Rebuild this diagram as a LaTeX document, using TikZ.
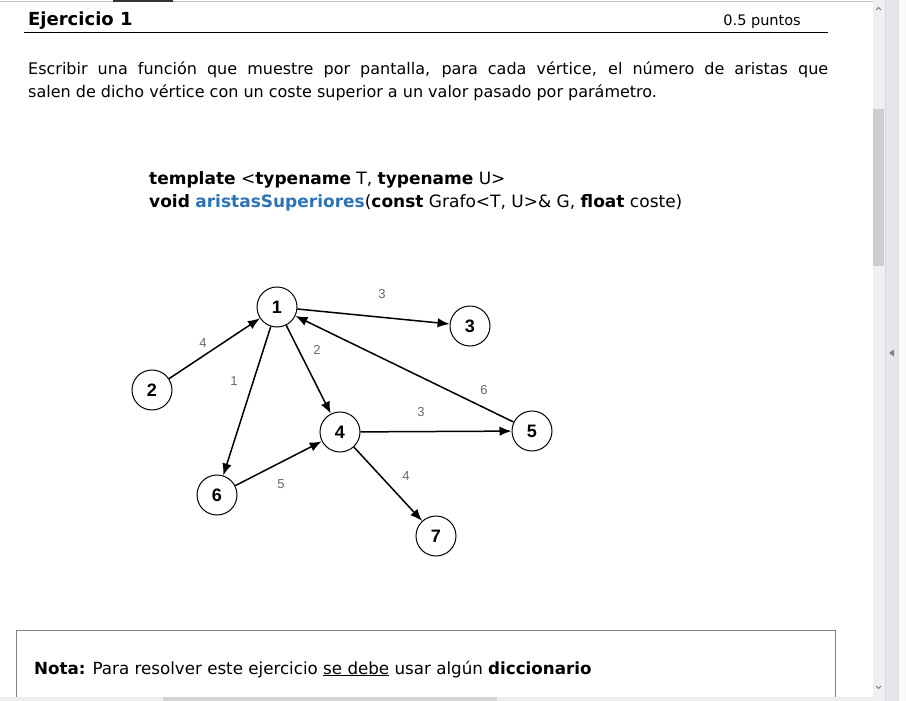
\documentclass[tikz,border=0pt]{standalone}
\usepackage{fontspec}
\setmainfont{DejaVu Sans}
\newfontfamily\numfont{Liberation Sans}
\usetikzlibrary{arrows.meta}
\definecolor{codeblue}{RGB}{46,116,181}
\definecolor{lblgrey}{RGB}{105,105,105}
\definecolor{trackgrey}{RGB}{240,240,242}
\definecolor{thumbgrey}{RGB}{205,205,205}
\definecolor{panelgrey}{RGB}{230,230,234}
\tikzset{
  vert/.style={circle, draw, line width=1pt, minimum size=40pt, inner sep=0pt, font=\numfont\bfseries\fontsize{18}{18}\selectfont},
  edge/.style={-{Latex[length=12pt,width=9.5pt]}, line width=1.5pt},
  wlabel/.style={text=lblgrey, font=\numfont\fontsize{13}{13}\selectfont, inner sep=0pt},
  body/.style={anchor=base west, inner sep=0pt, font=\fontsize{16}{19}\selectfont},
}
\begin{document}
\begin{tikzpicture}[x=1pt, y=-1pt]
\useasboundingbox (0,0) rectangle (906,701);
% window chrome
\draw[black!25, line width=0.8pt] (0,1) -- (873,1);
\fill[black!80] (113,0) rectangle (173,2);
\fill[trackgrey] (873,0) rectangle (885,701);
\fill[thumbgrey] (873,109) rectangle (884,266);
\fill[panelgrey] (885,0) rectangle (898,701);
\draw[black!15] (885,0) -- (885,701) (898,0) -- (898,701);
\fill[black!2] (898.5,0) rectangle (906,701);
\fill[black!50] (889,353) -- (894,349.5) -- (894,356.5) -- cycle;
\draw[black!55, line width=0.8pt] (876,10) -- (878.5,7.5) -- (881,10);
\draw[black!55, line width=0.8pt] (876,686) -- (878.5,688.5) -- (881,686);
\fill[black!7] (0,697) rectangle (873,701);
\fill[black!17] (163,697) rectangle (497,701);

% heading
\node[anchor=base west, inner sep=0pt, font=\bfseries\fontsize{18}{18}\selectfont] (title) at (28,26) {Ejercicio 1};
\node[anchor=base east, inner sep=0pt, font=\fontsize{14.5}{14.5}\selectfont] (pts) at (801,26) {0.5 puntos};
\draw[line width=1pt] (24,33) -- (828,33);

% paragraph
\node[body] (p1) at (28,75) {\makebox[800pt][s]{Escribir una función que muestre por pantalla, para cada vértice, el número de aristas que}};
\node[body] (p2) at (28,98) {salen de dicho vértice con un coste superior a un valor pasado por parámetro.};

% code
\node[body, font=\fontsize{17}{20}\selectfont] (c1) at (149,184) {\textbf{template} <\textbf{typename} T, \textbf{typename} U>};
\node[body, font=\fontsize{17}{20}\selectfont] (c2) at (149,207) {\textbf{void} \textbf{\textcolor{codeblue}{aristasSuperiores}}(\textbf{const} Grafo<T, U>\& G, \textbf{float} coste)};

% graph
\node[vert] (n1) at (277,307) {1};
\node[vert] (n2) at (152,390) {2};
\node[vert] (n3) at (470,326) {3};
\node[vert] (n4) at (340,432) {4};
\node[vert] (n5) at (532,431) {5};
\node[vert] (n6) at (217,495) {6};
\node[vert] (n7) at (436,536) {7};

\draw[edge] (n2) -- (n1);
\draw[edge] (n1) -- (n3);
\draw[edge] (n1) -- (n6);
\draw[edge] (n1) -- (n4);
\draw[edge] (n5) -- (n1);
\draw[edge] (n4) -- (n5);
\draw[edge] (n6) -- (n4);
\draw[edge] (n4) -- (n7);

\node[wlabel] (w13) at (382,294) {3};
\node[wlabel] (w21) at (203,343) {4};
\node[wlabel] (w16) at (234,381) {1};
\node[wlabel] (w14) at (317,350) {2};
\node[wlabel] (w51) at (484,390) {6};
\node[wlabel] (w45) at (421,412) {3};
\node[wlabel] (w64) at (281,484) {5};
\node[wlabel] (w47) at (406,476) {4};

% nota box
\draw[black!50, line width=0.9pt] (16,697) -- (16,630.5) -- (835,630.5) -- (835,697);
\node[body, font=\fontsize{16.7}{19}\selectfont] (nota) at (34,674) {\textbf{Nota:} Para resolver este ejercicio \underline{se debe} usar algún \textbf{diccionario}};
\end{tikzpicture}
\end{document}
